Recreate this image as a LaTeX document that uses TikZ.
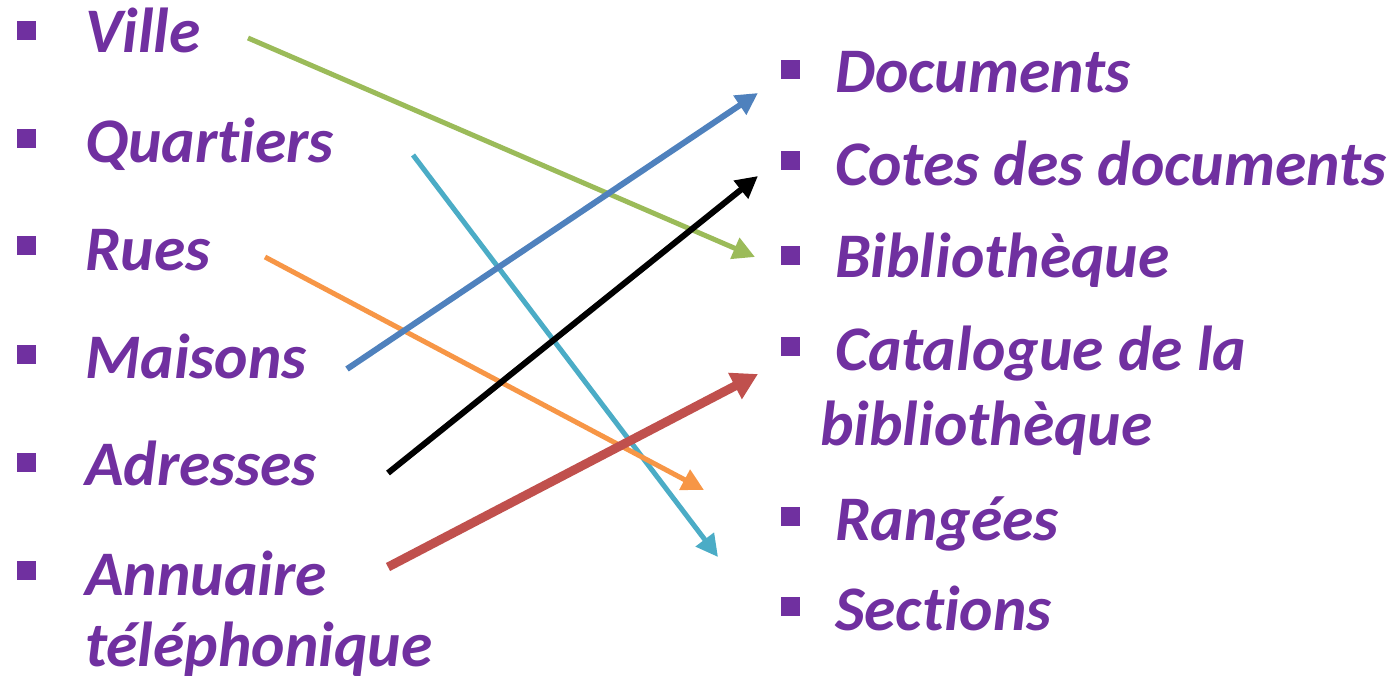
\documentclass[tikz,border=0pt]{standalone}
\usepackage{fontspec}
\setmainfont{Carlito}[RawFeature={-liga;-clig;-calt;-dlig}]
\usetikzlibrary{arrows.meta}
\definecolor{txtpurple}{HTML}{7030A0}
\definecolor{cgreen}{HTML}{9BBB59}
\definecolor{cteal}{HTML}{4BACC6}
\definecolor{corange}{HTML}{F79646}
\definecolor{cblue}{HTML}{4F81BD}
\definecolor{cred}{HTML}{C0504D}
\begin{document}
\begin{tikzpicture}[x=1pt,y=-1pt,
  item/.style={anchor=base west,inner sep=0pt,text=txtpurple,font=\fontsize{63.5}{70}\selectfont\bfseries\itshape},
  bul/.style={fill=txtpurple,minimum size=19pt,inner sep=0pt,draw=none},
  conn/.style={line width=#1,-{Triangle[length=22pt,width=22pt]}},
]
\useasboundingbox (0,0) rectangle (1394,681);
% left column
\node[bul] (b1) at (26,30) {};
\node[item] (ville) at (85,52) {Ville};
\node[bul] (b2) at (26,138) {};
\node[item] (quartiers) at (85,162) {Quar\kern0pt tiers};
\node[bul] (b3) at (26,245) {};
\node[item] (rues) at (85,270) {Rues};
\node[bul] (b4) at (26,354) {};
\node[item] (maisons) at (85,378) {Maisons};
\node[bul] (b5) at (26,462) {};
\node[item] (adresses) at (85,485) {Adresses};
\node[bul] (b6) at (26,570) {};
\node[item] (annuaire) at (85,595) {Annuaire};
\node[item] (tel) at (85,666) {téléphonique};
% right column
\node[bul] (r1) at (790,69) {};
\node[item] (documents) at (835,92) {Documents};
\node[bul] (r2) at (790,160) {};
\node[item] (cotes) at (835,185) {Cotes des documents};
\node[bul] (r3) at (790,255) {};
\node[item] (biblio) at (835,277) {Bibliothèque};
\node[bul] (r4) at (790,346) {};
\node[item] (catalogue) at (835,370) {Catalogue de la};
\node[item] (catalogue2) at (820,445) {bibliothèque};
\node[bul] (r5) at (790,516) {};
\node[item] (rangees) at (835,540) {Rangées};
\node[bul] (r6) at (790,606) {};
\node[item] (sections) at (835,630) {Sections};
% connector endpoints
\coordinate (g1) at (248,38);  \coordinate (g2) at (755,257);
\coordinate (t1) at (413,155); \coordinate (t2) at (718,557);
\coordinate (o1) at (265,257); \coordinate (o2) at (704,490);
\coordinate (u1) at (347,369); \coordinate (u2) at (758,93);
\coordinate (k1) at (388,473); \coordinate (k2) at (758,176);
\coordinate (d1) at (388,567); \coordinate (d2) at (758,374);
\draw[conn=5pt,cgreen] (g1) -- (g2);
\draw[conn=5pt,cteal] (t1) -- (t2);
\draw[conn=5pt,corange] (o1) -- (o2);
\draw[conn=6pt,cblue] (u1) -- (u2);
\draw[conn=6pt,black] (k1) -- (k2);
\draw[line width=9pt,cred,-{Triangle[length=26pt,width=28pt]}] (d1) -- (d2);
\end{tikzpicture}
\end{document}
